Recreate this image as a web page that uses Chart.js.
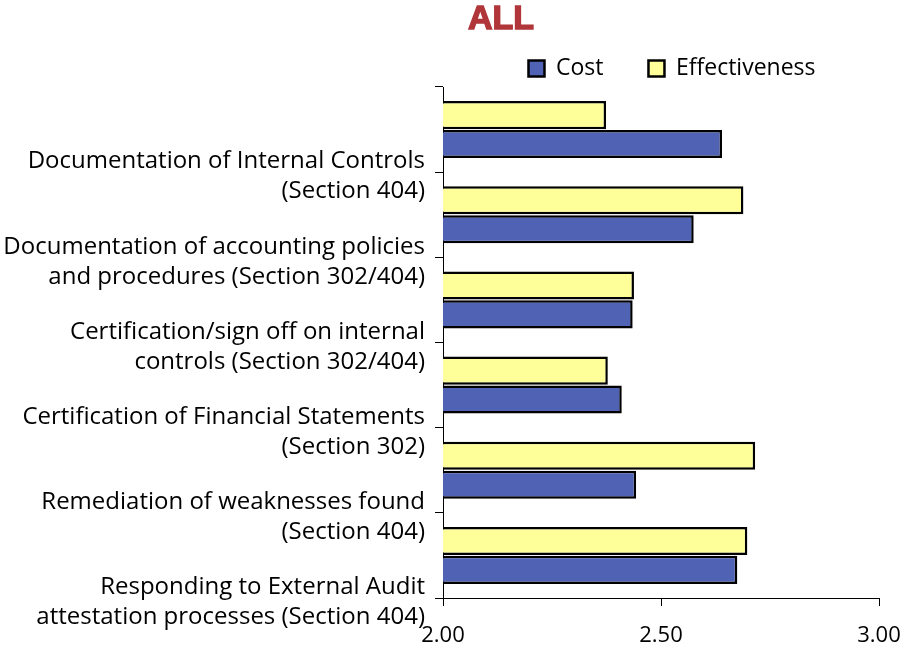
<html><head><script src="https://cdn.jsdelivr.net/npm/chart.js@4.4.3/dist/chart.umd.min.js"></script>
<style>body{margin:0;background:#fff}</style></head>
<body>
<canvas id="mychart" width="903" height="650"></canvas>
<script>
// data
titleText = "ALL"
categories = [
  ["Documentation of Internal Controls", "(Section 404)"],
  ["Documentation of accounting policies", "and procedures (Section 302/404)"],
  ["Certification/sign off on internal", "controls (Section 302/404)"],
  ["Certification of Financial Statements", "(Section 302)"],
  ["Remediation of weaknesses found", "(Section 404)"],
  ["Responding to External Audit", "attestation processes (Section 404)"]
]
cost = [2.64, 2.575, 2.435, 2.41, 2.443, 2.675]
effectiveness = [2.374, 2.689, 2.438, 2.378, 2.716, 2.698]
xMin = 2; xMax = 3; xStep = 0.5

FONT = "Open Sans"

titlePlugin = {
  id: "allTitle",
  afterLayout(c) {
    // legend in the original sits right of the plot centre and a bit lower
    c.legend.left += 11; c.legend.right += 11
    c.legend.top += 3; c.legend.bottom += 3
  },
  afterDraw(c) {
    // title sits over the left part of the plot, not centred on the canvas
    ctx = c.ctx
    ctx.save()
    ctx.font = "bold 34px 'Liberation Sans'"
    ctx.fillStyle = "#B0363A"
    ctx.strokeStyle = "#B0363A"
    ctx.lineWidth = 1.4
    ctx.textAlign = "center"
    ctx.textBaseline = "alphabetic"
    ctx.fillText(titleText, 501, 29)
    ctx.strokeText(titleText, 501, 29)
    ctx.restore()
  }
}

datainfo = {
  labels: categories,
  datasets: [
    { label: "Effectiveness", data: effectiveness, backgroundColor: "#FFFF99" },
    { label: "Cost", data: cost, backgroundColor: "#4F62B4" }
  ]
}

config = {
  type: "bar",
  data: datainfo,
  options: {
    indexAxis: "y",
    responsive: false,
    animation: false,
    devicePixelRatio: 1,
    layout: { padding: { top: 9, right: 0, left: 0, bottom: 0 } },
    datasets: {
      bar: {
        borderColor: "#000", borderWidth: 2.5, borderSkipped: false,
        categoryPercentage: 0.68, barPercentage: 0.97
      }
    },
    plugins: {
      tooltip: { enabled: false },
      legend: {
        position: "top", fullSize: false, reverse: true,
        labels: { boxWidth: 16, boxHeight: 16, padding: 45, color: "#000", font: { family: FONT, size: 23 } }
      }
    },
    scales: {
      y: {
        offset: true,
        grid: { offset: true, drawOnChartArea: false, tickLength: 8, color: "#000" },
        border: { color: "#000", width: 1 },
        ticks: { autoSkip: false, color: "#000", labelOffset: 47, padding: 10,
                 font: { family: FONT, size: 24, lineHeight: 1.25 } },
        afterFit(s) { s.width = 443 }
      },
      x: {
        min: xMin, max: xMax,
        grid: { drawOnChartArea: false, tickLength: 8, color: "#000" },
        border: { color: "#000", width: 1 },
        ticks: { stepSize: xStep, color: "#000", padding: 17,
                 font: { family: FONT, size: 22 },
                 callback: v => Number(v).toFixed(2) },
        afterFit(s) { s.height = 52; s.paddingRight = 24 }
      }
    }
  },
  plugins: [titlePlugin]
}
new Chart(document.querySelector("#mychart"), config)
</script>
</body></html>
